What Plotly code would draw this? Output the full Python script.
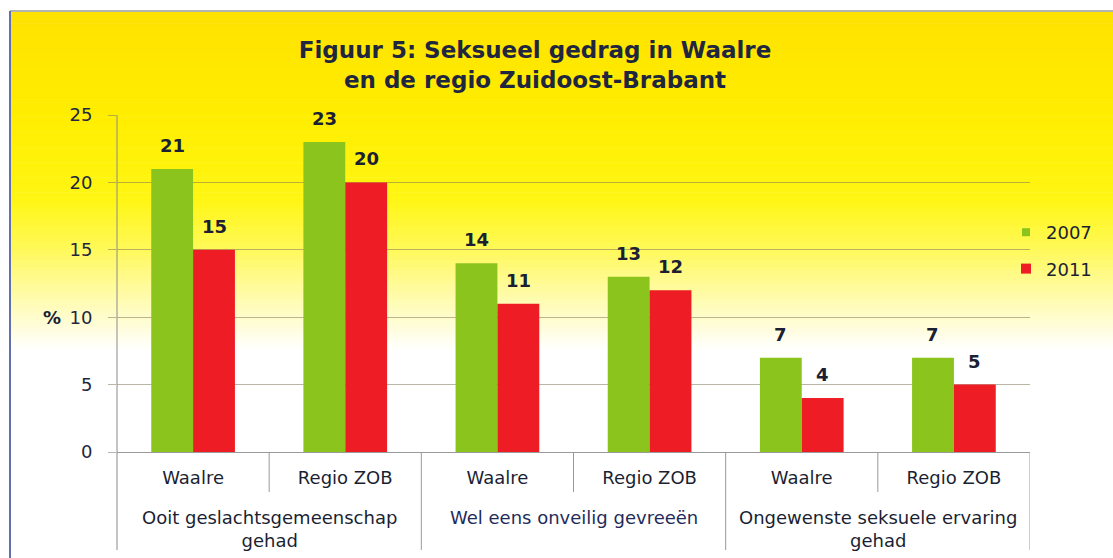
import plotly.graph_objects as go

groups = ["Ooit geslachtsgemeenschap<br>gehad", "Wel eens onveilig gevreeën", "Ongewenste seksuele ervaring<br>gehad"]
subcats = ["Waalre", "Regio ZOB", "Waalre", "Regio ZOB", "Waalre", "Regio ZOB"]
series_names = ["2007", "2011"]
values_2007 = [21, 23, 14, 13, 7, 7]
values_2011 = [15, 20, 11, 12, 4, 5]
y_ticks = [0, 5, 10, 15, 20, 25]

W, H = 1113, 558
ML, MR, MT, MB = 117, 83, 115, 106
PW, PH = W - ML - MR, H - MT - MB

def px_to_py(py):
    return (H - MB - py) / PH

def px_to_px(px):
    return (px - ML) / PW

GREEN = "#8CC41E"
RED = "#EE1C25"
TXT = "#1B1F33"
FONT = "DejaVu Sans"
BARGAP = 0.45

xs = list(range(len(subcats)))
bar_w = (1 - BARGAP) / 2

fig = go.Figure()
annotations = []
series = [(series_names[0], values_2007, GREEN), (series_names[1], values_2011, RED)]
for si, (name, vals, col) in enumerate(series):
    fig.add_trace(go.Bar(
        x=xs, y=vals, name=name, marker=dict(color=col, line=dict(width=0)), showlegend=False,
    ))
    off = (si - 0.5) * bar_w
    for x, v in zip(xs, vals):
        annotations.append(dict(x=x + off, xref="x", y=v, yref="y", yanchor="bottom", yshift=11,
                                text="<b>%d</b>" % v, showarrow=False,
                                font=dict(family=FONT, size=18, color=TXT)))
# legend entries with small square markers
for si, (name, vals, col) in enumerate(series):
    fig.add_trace(go.Scatter(x=[None], y=[None], mode="markers", name=name, legendgroup=name,
                             marker=dict(symbol="square", size=10 if si else 8, color=col)))

shapes = []
# gradient background
stops = [(12, (255, 226, 0)), (120, (255, 238, 0)), (200, (255, 246, 20)),
         (250, (255, 249, 90)), (290, (255, 251, 160)), (325, (255, 253, 215)), (350, (255, 255, 255))]
n = 90
y_top, y_bot = 12, 350
def col_at(py):
    for (a, ca), (b, cb) in zip(stops[:-1], stops[1:]):
        if a <= py <= b:
            t = (py - a) / (b - a)
            return tuple(round(ca[i] + (cb[i] - ca[i]) * t) for i in range(3))
    return stops[-1][1]
for i in range(n):
    p0 = y_top + (y_bot - y_top) * i / n
    p1 = y_top + (y_bot - y_top) * (i + 1) / n + 0.6
    c = col_at((p0 + p1) / 2)
    shapes.append(dict(type="rect", xref="paper", yref="paper", layer="below",
                       x0=px_to_px(10), x1=px_to_px(W), y0=px_to_py(p1), y1=px_to_py(p0),
                       fillcolor="rgb(%d,%d,%d)" % c, line=dict(width=0)))
# outer border lines
shapes.append(dict(type="line", xref="paper", yref="paper", x0=px_to_px(10), x1=px_to_px(W),
                   y0=px_to_py(11), y1=px_to_py(11), line=dict(color="#9A9A9A", width=1.5)))
shapes.append(dict(type="line", xref="paper", yref="paper", x0=px_to_px(10), x1=px_to_px(10),
                   y0=px_to_py(11), y1=px_to_py(H), line=dict(color="#6070B0", width=2)))
# left axis line extended
shapes.append(dict(type="line", xref="paper", yref="paper", x0=0, x1=0,
                   y0=px_to_py(550), y1=1, line=dict(color="#8A8A8A", width=1)))
# dividers
for k in range(1, len(subcats) + 1):
    xb = k - 0.5
    y0 = px_to_py(550) if k % 2 == 0 else px_to_py(492)
    shapes.append(dict(type="line", xref="x", yref="paper", x0=xb, x1=xb, y0=y0, y1=0,
                       line=dict(color="#9A9A9A", width=1)))

for gi, g in enumerate(groups):
    annotations.append(dict(x=2 * gi + 0.5, xref="x", y=px_to_py(505), yref="paper",
                            text=g, showarrow=False, yanchor="top",
                            font=dict(family=FONT, size=18, color=TXT if gi != 1 else "#1F2C5A")))
annotations.append(dict(x=px_to_px(41), xref="paper", y=10, yref="y", text="<b>%</b>",
                        showarrow=False, font=dict(family=FONT, size=18, color=TXT)))

fig.update_layout(
    width=W, height=H,
    margin=dict(l=ML, r=MR, t=MT, b=MB, pad=0),
    paper_bgcolor="white", plot_bgcolor="rgba(0,0,0,0)",
    barmode="group", bargap=BARGAP, bargroupgap=0,
    title=dict(text="<b>Figuur 5: Seksueel gedrag in Waalre<br>en de regio Zuidoost-Brabant</b>",
               x=535 / W, xanchor="center", y=1 - 58 / H, yanchor="top",
               font=dict(family=FONT, size=23, color="#1F2640")),
    font=dict(family=FONT, color=TXT),
    showlegend=True,
    legend=dict(x=px_to_px(1006), xanchor="left", y=px_to_py(214), yanchor="top",
                bgcolor="rgba(0,0,0,0)", font=dict(family=FONT, size=18, color=TXT),
                itemwidth=30, tracegroupgap=10),
    shapes=shapes, annotations=annotations,
)
fig.update_xaxes(
    tickmode="array", tickvals=xs, ticktext=subcats, range=[-0.5, len(subcats) - 0.5],
    showgrid=False, zeroline=False, showline=True, linecolor="#9A9A9A", linewidth=1,
    ticks="", tickfont=dict(family=FONT, size=18, color=TXT), ticklabelstandoff=9,
)
fig.update_yaxes(
    range=[0, 25], tickvals=y_ticks, showgrid=True, gridcolor="rgba(130,120,90,0.55)", gridwidth=1,
    zeroline=False, showline=False, ticks="outside", ticklen=8, tickcolor="rgba(130,120,90,0.55)",
    tickfont=dict(family=FONT, size=18, color="#1F2640"), ticklabelstandoff=12,
)
fig.write_html("out.html", config={"displayModeBar": False},
               post_script="document.body.style.margin='0';document.body.style.padding='0';")
